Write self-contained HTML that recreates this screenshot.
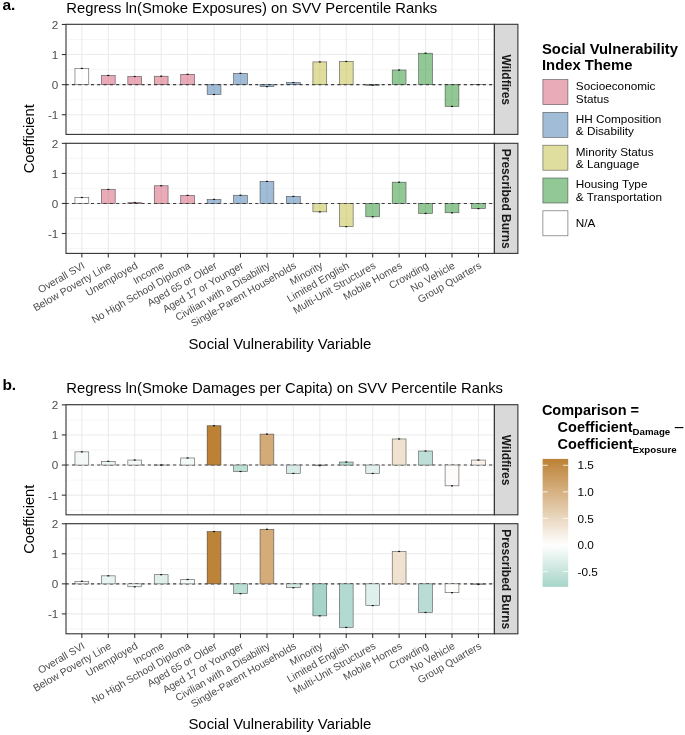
<!DOCTYPE html>
<html><head><meta charset="utf-8"><style>
html,body{margin:0;padding:0;background:#fff;}
body{width:685px;height:735px;overflow:hidden;font-family:"Liberation Sans", sans-serif;}
svg{display:block;will-change:transform;}
</style></head><body>
<svg width="685" height="735" viewBox="0 0 685 735" font-family='"Liberation Sans", sans-serif'><text x="2.4" y="10.05" font-size="15.5" font-weight="bold" fill="#000">a.</text>
<text x="66.3" y="12.90" font-size="14.8" fill="#000">Regress ln(Smoke Exposures) on SVV Percentile Ranks</text>
<rect x="66.0" y="24.3" width="428.40" height="110.10" fill="#fff"/>
<line x1="66.0" x2="494.4" y1="39.50" y2="39.50" stroke="#f0f0f0" stroke-width="0.6"/>
<line x1="66.0" x2="494.4" y1="69.60" y2="69.60" stroke="#f0f0f0" stroke-width="0.6"/>
<line x1="66.0" x2="494.4" y1="99.70" y2="99.70" stroke="#f0f0f0" stroke-width="0.6"/>
<line x1="66.0" x2="494.4" y1="129.80" y2="129.80" stroke="#f0f0f0" stroke-width="0.6"/>
<line x1="66.0" x2="494.4" y1="24.45" y2="24.45" stroke="#ebebeb" stroke-width="1.07"/>
<line x1="66.0" x2="494.4" y1="54.55" y2="54.55" stroke="#ebebeb" stroke-width="1.07"/>
<line x1="66.0" x2="494.4" y1="84.65" y2="84.65" stroke="#ebebeb" stroke-width="1.07"/>
<line x1="66.0" x2="494.4" y1="114.75" y2="114.75" stroke="#ebebeb" stroke-width="1.07"/>
<line x1="81.85" x2="81.85" y1="24.3" y2="134.4" stroke="#ebebeb" stroke-width="1.07"/>
<line x1="108.29" x2="108.29" y1="24.3" y2="134.4" stroke="#ebebeb" stroke-width="1.07"/>
<line x1="134.73" x2="134.73" y1="24.3" y2="134.4" stroke="#ebebeb" stroke-width="1.07"/>
<line x1="161.17" x2="161.17" y1="24.3" y2="134.4" stroke="#ebebeb" stroke-width="1.07"/>
<line x1="187.61" x2="187.61" y1="24.3" y2="134.4" stroke="#ebebeb" stroke-width="1.07"/>
<line x1="214.05" x2="214.05" y1="24.3" y2="134.4" stroke="#ebebeb" stroke-width="1.07"/>
<line x1="240.49" x2="240.49" y1="24.3" y2="134.4" stroke="#ebebeb" stroke-width="1.07"/>
<line x1="266.93" x2="266.93" y1="24.3" y2="134.4" stroke="#ebebeb" stroke-width="1.07"/>
<line x1="293.37" x2="293.37" y1="24.3" y2="134.4" stroke="#ebebeb" stroke-width="1.07"/>
<line x1="319.81" x2="319.81" y1="24.3" y2="134.4" stroke="#ebebeb" stroke-width="1.07"/>
<line x1="346.25" x2="346.25" y1="24.3" y2="134.4" stroke="#ebebeb" stroke-width="1.07"/>
<line x1="372.69" x2="372.69" y1="24.3" y2="134.4" stroke="#ebebeb" stroke-width="1.07"/>
<line x1="399.13" x2="399.13" y1="24.3" y2="134.4" stroke="#ebebeb" stroke-width="1.07"/>
<line x1="425.57" x2="425.57" y1="24.3" y2="134.4" stroke="#ebebeb" stroke-width="1.07"/>
<line x1="452.01" x2="452.01" y1="24.3" y2="134.4" stroke="#ebebeb" stroke-width="1.07"/>
<line x1="478.45" x2="478.45" y1="24.3" y2="134.4" stroke="#ebebeb" stroke-width="1.07"/>
<line x1="66.0" x2="494.4" y1="84.65" y2="84.65" stroke="#3d3d3d" stroke-width="1.07" stroke-dasharray="3.1 3.22" stroke-dashoffset="0.36"/>
<rect x="74.95" y="68.40" width="13.8" height="16.25" fill="#ffffff" fill-opacity="0.5" stroke="#333" stroke-opacity="0.75" stroke-width="0.65"/>
<rect x="101.39" y="75.47" width="13.8" height="9.18" fill="#d55773" fill-opacity="0.5" stroke="#333" stroke-opacity="0.75" stroke-width="0.65"/>
<rect x="127.83" y="76.52" width="13.8" height="8.13" fill="#d55773" fill-opacity="0.5" stroke="#333" stroke-opacity="0.75" stroke-width="0.65"/>
<rect x="154.27" y="76.22" width="13.8" height="8.43" fill="#d55773" fill-opacity="0.5" stroke="#333" stroke-opacity="0.75" stroke-width="0.65"/>
<rect x="180.71" y="74.33" width="13.8" height="10.32" fill="#d55773" fill-opacity="0.5" stroke="#333" stroke-opacity="0.75" stroke-width="0.65"/>
<rect x="207.15" y="84.65" width="13.8" height="9.84" fill="#4379ad" fill-opacity="0.5" stroke="#333" stroke-opacity="0.75" stroke-width="0.65"/>
<rect x="233.59" y="73.36" width="13.8" height="11.29" fill="#4379ad" fill-opacity="0.5" stroke="#333" stroke-opacity="0.75" stroke-width="0.65"/>
<rect x="260.03" y="84.65" width="13.8" height="1.96" fill="#4379ad" fill-opacity="0.5" stroke="#333" stroke-opacity="0.75" stroke-width="0.65"/>
<rect x="286.47" y="82.54" width="13.8" height="2.11" fill="#4379ad" fill-opacity="0.5" stroke="#333" stroke-opacity="0.75" stroke-width="0.65"/>
<rect x="312.91" y="61.92" width="13.8" height="22.73" fill="#bfbd3d" fill-opacity="0.5" stroke="#333" stroke-opacity="0.75" stroke-width="0.65"/>
<rect x="339.35" y="61.47" width="13.8" height="23.18" fill="#bfbd3d" fill-opacity="0.5" stroke="#333" stroke-opacity="0.75" stroke-width="0.65"/>
<rect x="365.79" y="84.65" width="13.8" height="0.60" fill="#23912d" fill-opacity="0.5" stroke="#333" stroke-opacity="0.75" stroke-width="0.65"/>
<rect x="392.23" y="69.99" width="13.8" height="14.66" fill="#23912d" fill-opacity="0.5" stroke="#333" stroke-opacity="0.75" stroke-width="0.65"/>
<rect x="418.67" y="53.23" width="13.8" height="31.42" fill="#23912d" fill-opacity="0.5" stroke="#333" stroke-opacity="0.75" stroke-width="0.65"/>
<rect x="445.11" y="84.65" width="13.8" height="21.76" fill="#23912d" fill-opacity="0.5" stroke="#333" stroke-opacity="0.75" stroke-width="0.65"/>
<rect x="471.55" y="84.65" width="13.8" height="0.01" fill="#23912d" fill-opacity="0.5" stroke="#333" stroke-opacity="0.75" stroke-width="0.65"/>
<rect x="80.85" y="67.80" width="2.0" height="1.2" fill="#111"/>
<rect x="107.29" y="74.87" width="2.0" height="1.2" fill="#111"/>
<rect x="133.73" y="75.92" width="2.0" height="1.2" fill="#111"/>
<rect x="160.17" y="75.62" width="2.0" height="1.2" fill="#111"/>
<rect x="186.61" y="73.73" width="2.0" height="1.2" fill="#111"/>
<rect x="213.05" y="93.89" width="2.0" height="1.2" fill="#111"/>
<rect x="239.49" y="72.76" width="2.0" height="1.2" fill="#111"/>
<rect x="265.93" y="86.01" width="2.0" height="1.2" fill="#111"/>
<rect x="292.37" y="81.94" width="2.0" height="1.2" fill="#111"/>
<rect x="318.81" y="61.32" width="2.0" height="1.2" fill="#111"/>
<rect x="345.25" y="60.87" width="2.0" height="1.2" fill="#111"/>
<rect x="371.69" y="84.65" width="2.0" height="1.2" fill="#111"/>
<rect x="398.13" y="69.39" width="2.0" height="1.2" fill="#111"/>
<rect x="424.57" y="52.63" width="2.0" height="1.2" fill="#111"/>
<rect x="451.01" y="105.81" width="2.0" height="1.2" fill="#111"/>
<rect x="477.45" y="84.05" width="2.0" height="1.2" fill="#111"/>
<rect x="66.0" y="24.3" width="428.40" height="110.10" fill="none" stroke="#333" stroke-width="1.1"/>
<rect x="494.4" y="24.3" width="23.50" height="110.10" fill="#d9d9d9" stroke="#333" stroke-width="1.1"/>
<text transform="translate(501.6,79.75) rotate(90)" text-anchor="middle" font-size="12" font-weight="bold" fill="#1a1a1a">Wildfires</text>
<line x1="61.8" x2="66.0" y1="24.45" y2="24.45" stroke="#333" stroke-width="1.07"/>
<text x="58.3" y="28.85" text-anchor="end" font-size="11.7" fill="#4d4d4d">2</text>
<line x1="61.8" x2="66.0" y1="54.55" y2="54.55" stroke="#333" stroke-width="1.07"/>
<text x="58.3" y="58.95" text-anchor="end" font-size="11.7" fill="#4d4d4d">1</text>
<line x1="61.8" x2="66.0" y1="84.65" y2="84.65" stroke="#333" stroke-width="1.07"/>
<text x="58.3" y="89.05" text-anchor="end" font-size="11.7" fill="#4d4d4d">0</text>
<line x1="61.8" x2="66.0" y1="114.75" y2="114.75" stroke="#333" stroke-width="1.07"/>
<text x="58.3" y="119.15" text-anchor="end" font-size="11.7" fill="#4d4d4d">-1</text>
<rect x="66.0" y="143.3" width="428.40" height="110.10" fill="#fff"/>
<line x1="66.0" x2="494.4" y1="158.38" y2="158.38" stroke="#f0f0f0" stroke-width="0.6"/>
<line x1="66.0" x2="494.4" y1="188.42" y2="188.42" stroke="#f0f0f0" stroke-width="0.6"/>
<line x1="66.0" x2="494.4" y1="218.47" y2="218.47" stroke="#f0f0f0" stroke-width="0.6"/>
<line x1="66.0" x2="494.4" y1="248.52" y2="248.52" stroke="#f0f0f0" stroke-width="0.6"/>
<line x1="66.0" x2="494.4" y1="143.35" y2="143.35" stroke="#ebebeb" stroke-width="1.07"/>
<line x1="66.0" x2="494.4" y1="173.40" y2="173.40" stroke="#ebebeb" stroke-width="1.07"/>
<line x1="66.0" x2="494.4" y1="203.45" y2="203.45" stroke="#ebebeb" stroke-width="1.07"/>
<line x1="66.0" x2="494.4" y1="233.50" y2="233.50" stroke="#ebebeb" stroke-width="1.07"/>
<line x1="81.85" x2="81.85" y1="143.3" y2="253.4" stroke="#ebebeb" stroke-width="1.07"/>
<line x1="108.29" x2="108.29" y1="143.3" y2="253.4" stroke="#ebebeb" stroke-width="1.07"/>
<line x1="134.73" x2="134.73" y1="143.3" y2="253.4" stroke="#ebebeb" stroke-width="1.07"/>
<line x1="161.17" x2="161.17" y1="143.3" y2="253.4" stroke="#ebebeb" stroke-width="1.07"/>
<line x1="187.61" x2="187.61" y1="143.3" y2="253.4" stroke="#ebebeb" stroke-width="1.07"/>
<line x1="214.05" x2="214.05" y1="143.3" y2="253.4" stroke="#ebebeb" stroke-width="1.07"/>
<line x1="240.49" x2="240.49" y1="143.3" y2="253.4" stroke="#ebebeb" stroke-width="1.07"/>
<line x1="266.93" x2="266.93" y1="143.3" y2="253.4" stroke="#ebebeb" stroke-width="1.07"/>
<line x1="293.37" x2="293.37" y1="143.3" y2="253.4" stroke="#ebebeb" stroke-width="1.07"/>
<line x1="319.81" x2="319.81" y1="143.3" y2="253.4" stroke="#ebebeb" stroke-width="1.07"/>
<line x1="346.25" x2="346.25" y1="143.3" y2="253.4" stroke="#ebebeb" stroke-width="1.07"/>
<line x1="372.69" x2="372.69" y1="143.3" y2="253.4" stroke="#ebebeb" stroke-width="1.07"/>
<line x1="399.13" x2="399.13" y1="143.3" y2="253.4" stroke="#ebebeb" stroke-width="1.07"/>
<line x1="425.57" x2="425.57" y1="143.3" y2="253.4" stroke="#ebebeb" stroke-width="1.07"/>
<line x1="452.01" x2="452.01" y1="143.3" y2="253.4" stroke="#ebebeb" stroke-width="1.07"/>
<line x1="478.45" x2="478.45" y1="143.3" y2="253.4" stroke="#ebebeb" stroke-width="1.07"/>
<line x1="66.0" x2="494.4" y1="203.45" y2="203.45" stroke="#3d3d3d" stroke-width="1.07" stroke-dasharray="3.1 3.22" stroke-dashoffset="0.36"/>
<rect x="74.95" y="197.50" width="13.8" height="5.95" fill="#ffffff" fill-opacity="0.5" stroke="#333" stroke-opacity="0.75" stroke-width="0.65"/>
<rect x="101.39" y="189.45" width="13.8" height="14.00" fill="#d55773" fill-opacity="0.5" stroke="#333" stroke-opacity="0.75" stroke-width="0.65"/>
<rect x="127.83" y="202.55" width="13.8" height="0.90" fill="#d55773" fill-opacity="0.5" stroke="#333" stroke-opacity="0.75" stroke-width="0.65"/>
<rect x="154.27" y="185.75" width="13.8" height="17.70" fill="#d55773" fill-opacity="0.5" stroke="#333" stroke-opacity="0.75" stroke-width="0.65"/>
<rect x="180.71" y="195.40" width="13.8" height="8.05" fill="#d55773" fill-opacity="0.5" stroke="#333" stroke-opacity="0.75" stroke-width="0.65"/>
<rect x="207.15" y="199.42" width="13.8" height="4.03" fill="#4379ad" fill-opacity="0.5" stroke="#333" stroke-opacity="0.75" stroke-width="0.65"/>
<rect x="233.59" y="195.25" width="13.8" height="8.20" fill="#4379ad" fill-opacity="0.5" stroke="#333" stroke-opacity="0.75" stroke-width="0.65"/>
<rect x="260.03" y="181.42" width="13.8" height="22.03" fill="#4379ad" fill-opacity="0.5" stroke="#333" stroke-opacity="0.75" stroke-width="0.65"/>
<rect x="286.47" y="196.39" width="13.8" height="7.06" fill="#4379ad" fill-opacity="0.5" stroke="#333" stroke-opacity="0.75" stroke-width="0.65"/>
<rect x="312.91" y="203.45" width="13.8" height="8.38" fill="#bfbd3d" fill-opacity="0.5" stroke="#333" stroke-opacity="0.75" stroke-width="0.65"/>
<rect x="339.35" y="203.45" width="13.8" height="23.17" fill="#bfbd3d" fill-opacity="0.5" stroke="#333" stroke-opacity="0.75" stroke-width="0.65"/>
<rect x="365.79" y="203.45" width="13.8" height="13.34" fill="#23912d" fill-opacity="0.5" stroke="#333" stroke-opacity="0.75" stroke-width="0.65"/>
<rect x="392.23" y="182.20" width="13.8" height="21.25" fill="#23912d" fill-opacity="0.5" stroke="#333" stroke-opacity="0.75" stroke-width="0.65"/>
<rect x="418.67" y="203.45" width="13.8" height="9.98" fill="#23912d" fill-opacity="0.5" stroke="#333" stroke-opacity="0.75" stroke-width="0.65"/>
<rect x="445.11" y="203.45" width="13.8" height="9.32" fill="#23912d" fill-opacity="0.5" stroke="#333" stroke-opacity="0.75" stroke-width="0.65"/>
<rect x="471.55" y="203.45" width="13.8" height="5.14" fill="#23912d" fill-opacity="0.5" stroke="#333" stroke-opacity="0.75" stroke-width="0.65"/>
<rect x="80.85" y="196.90" width="2.0" height="1.2" fill="#111"/>
<rect x="107.29" y="188.85" width="2.0" height="1.2" fill="#111"/>
<rect x="133.73" y="201.95" width="2.0" height="1.2" fill="#111"/>
<rect x="160.17" y="185.15" width="2.0" height="1.2" fill="#111"/>
<rect x="186.61" y="194.80" width="2.0" height="1.2" fill="#111"/>
<rect x="213.05" y="198.82" width="2.0" height="1.2" fill="#111"/>
<rect x="239.49" y="194.65" width="2.0" height="1.2" fill="#111"/>
<rect x="265.93" y="180.82" width="2.0" height="1.2" fill="#111"/>
<rect x="292.37" y="195.79" width="2.0" height="1.2" fill="#111"/>
<rect x="318.81" y="211.23" width="2.0" height="1.2" fill="#111"/>
<rect x="345.25" y="226.02" width="2.0" height="1.2" fill="#111"/>
<rect x="371.69" y="216.19" width="2.0" height="1.2" fill="#111"/>
<rect x="398.13" y="181.60" width="2.0" height="1.2" fill="#111"/>
<rect x="424.57" y="212.83" width="2.0" height="1.2" fill="#111"/>
<rect x="451.01" y="212.17" width="2.0" height="1.2" fill="#111"/>
<rect x="477.45" y="207.99" width="2.0" height="1.2" fill="#111"/>
<rect x="66.0" y="143.3" width="428.40" height="110.10" fill="none" stroke="#333" stroke-width="1.1"/>
<rect x="494.4" y="143.3" width="23.50" height="110.10" fill="#d9d9d9" stroke="#333" stroke-width="1.1"/>
<text transform="translate(501.6,198.75) rotate(90)" text-anchor="middle" font-size="12" font-weight="bold" fill="#1a1a1a">Prescribed Burns</text>
<line x1="61.8" x2="66.0" y1="143.35" y2="143.35" stroke="#333" stroke-width="1.07"/>
<text x="58.3" y="147.75" text-anchor="end" font-size="11.7" fill="#4d4d4d">2</text>
<line x1="61.8" x2="66.0" y1="173.40" y2="173.40" stroke="#333" stroke-width="1.07"/>
<text x="58.3" y="177.80" text-anchor="end" font-size="11.7" fill="#4d4d4d">1</text>
<line x1="61.8" x2="66.0" y1="203.45" y2="203.45" stroke="#333" stroke-width="1.07"/>
<text x="58.3" y="207.85" text-anchor="end" font-size="11.7" fill="#4d4d4d">0</text>
<line x1="61.8" x2="66.0" y1="233.50" y2="233.50" stroke="#333" stroke-width="1.07"/>
<text x="58.3" y="237.90" text-anchor="end" font-size="11.7" fill="#4d4d4d">-1</text>
<line x1="81.85" x2="81.85" y1="253.4" y2="257.60" stroke="#333" stroke-width="1.07"/>
<line x1="108.29" x2="108.29" y1="253.4" y2="257.60" stroke="#333" stroke-width="1.07"/>
<line x1="134.73" x2="134.73" y1="253.4" y2="257.60" stroke="#333" stroke-width="1.07"/>
<line x1="161.17" x2="161.17" y1="253.4" y2="257.60" stroke="#333" stroke-width="1.07"/>
<line x1="187.61" x2="187.61" y1="253.4" y2="257.60" stroke="#333" stroke-width="1.07"/>
<line x1="214.05" x2="214.05" y1="253.4" y2="257.60" stroke="#333" stroke-width="1.07"/>
<line x1="240.49" x2="240.49" y1="253.4" y2="257.60" stroke="#333" stroke-width="1.07"/>
<line x1="266.93" x2="266.93" y1="253.4" y2="257.60" stroke="#333" stroke-width="1.07"/>
<line x1="293.37" x2="293.37" y1="253.4" y2="257.60" stroke="#333" stroke-width="1.07"/>
<line x1="319.81" x2="319.81" y1="253.4" y2="257.60" stroke="#333" stroke-width="1.07"/>
<line x1="346.25" x2="346.25" y1="253.4" y2="257.60" stroke="#333" stroke-width="1.07"/>
<line x1="372.69" x2="372.69" y1="253.4" y2="257.60" stroke="#333" stroke-width="1.07"/>
<line x1="399.13" x2="399.13" y1="253.4" y2="257.60" stroke="#333" stroke-width="1.07"/>
<line x1="425.57" x2="425.57" y1="253.4" y2="257.60" stroke="#333" stroke-width="1.07"/>
<line x1="452.01" x2="452.01" y1="253.4" y2="257.60" stroke="#333" stroke-width="1.07"/>
<line x1="478.45" x2="478.45" y1="253.4" y2="257.60" stroke="#333" stroke-width="1.07"/>
<text transform="translate(81.85,261.10) rotate(-30)" text-anchor="end" dy="0.72em" font-size="10.3" fill="#4d4d4d">Overall SVI</text>
<text transform="translate(108.29,261.10) rotate(-30)" text-anchor="end" dy="0.72em" font-size="10.3" fill="#4d4d4d">Below Poverty Line</text>
<text transform="translate(134.73,261.10) rotate(-30)" text-anchor="end" dy="0.72em" font-size="10.3" fill="#4d4d4d">Unemployed</text>
<text transform="translate(161.17,261.10) rotate(-30)" text-anchor="end" dy="0.72em" font-size="10.3" fill="#4d4d4d">Income</text>
<text transform="translate(187.61,261.10) rotate(-30)" text-anchor="end" dy="0.72em" font-size="10.3" fill="#4d4d4d">No High School Diploma</text>
<text transform="translate(214.05,261.10) rotate(-30)" text-anchor="end" dy="0.72em" font-size="10.3" fill="#4d4d4d">Aged 65 or Older</text>
<text transform="translate(240.49,261.10) rotate(-30)" text-anchor="end" dy="0.72em" font-size="10.3" fill="#4d4d4d">Aged 17 or Younger</text>
<text transform="translate(266.93,261.10) rotate(-30)" text-anchor="end" dy="0.72em" font-size="10.3" fill="#4d4d4d">Civilian with a Disability</text>
<text transform="translate(293.37,261.10) rotate(-30)" text-anchor="end" dy="0.72em" font-size="10.3" fill="#4d4d4d">Single-Parent Households</text>
<text transform="translate(319.81,261.10) rotate(-30)" text-anchor="end" dy="0.72em" font-size="10.3" fill="#4d4d4d">Minority</text>
<text transform="translate(346.25,261.10) rotate(-30)" text-anchor="end" dy="0.72em" font-size="10.3" fill="#4d4d4d">Limited English</text>
<text transform="translate(372.69,261.10) rotate(-30)" text-anchor="end" dy="0.72em" font-size="10.3" fill="#4d4d4d">Multi-Unit Structures</text>
<text transform="translate(399.13,261.10) rotate(-30)" text-anchor="end" dy="0.72em" font-size="10.3" fill="#4d4d4d">Mobile Homes</text>
<text transform="translate(425.57,261.10) rotate(-30)" text-anchor="end" dy="0.72em" font-size="10.3" fill="#4d4d4d">Crowding</text>
<text transform="translate(452.01,261.10) rotate(-30)" text-anchor="end" dy="0.72em" font-size="10.3" fill="#4d4d4d">No Vehicle</text>
<text transform="translate(478.45,261.10) rotate(-30)" text-anchor="end" dy="0.72em" font-size="10.3" fill="#4d4d4d">Group Quarters</text>
<text transform="translate(33.9,138.80) rotate(-90)" text-anchor="middle" font-size="14.7" fill="#000">Coefficient</text>
<text x="279.9" y="348.80" text-anchor="middle" font-size="14.9" fill="#000">Social Vulnerability Variable</text>
<text x="2.4" y="390.45" font-size="15.5" font-weight="bold" fill="#000">b.</text>
<text x="66.3" y="393.30" font-size="14.8" fill="#000">Regress ln(Smoke Damages per Capita) on SVV Percentile Ranks</text>
<rect x="66.0" y="404.7" width="428.40" height="110.10" fill="#fff"/>
<line x1="66.0" x2="494.4" y1="419.90" y2="419.90" stroke="#f0f0f0" stroke-width="0.6"/>
<line x1="66.0" x2="494.4" y1="450.00" y2="450.00" stroke="#f0f0f0" stroke-width="0.6"/>
<line x1="66.0" x2="494.4" y1="480.10" y2="480.10" stroke="#f0f0f0" stroke-width="0.6"/>
<line x1="66.0" x2="494.4" y1="510.20" y2="510.20" stroke="#f0f0f0" stroke-width="0.6"/>
<line x1="66.0" x2="494.4" y1="404.85" y2="404.85" stroke="#ebebeb" stroke-width="1.07"/>
<line x1="66.0" x2="494.4" y1="434.95" y2="434.95" stroke="#ebebeb" stroke-width="1.07"/>
<line x1="66.0" x2="494.4" y1="465.05" y2="465.05" stroke="#ebebeb" stroke-width="1.07"/>
<line x1="66.0" x2="494.4" y1="495.15" y2="495.15" stroke="#ebebeb" stroke-width="1.07"/>
<line x1="81.85" x2="81.85" y1="404.7" y2="514.8" stroke="#ebebeb" stroke-width="1.07"/>
<line x1="108.29" x2="108.29" y1="404.7" y2="514.8" stroke="#ebebeb" stroke-width="1.07"/>
<line x1="134.73" x2="134.73" y1="404.7" y2="514.8" stroke="#ebebeb" stroke-width="1.07"/>
<line x1="161.17" x2="161.17" y1="404.7" y2="514.8" stroke="#ebebeb" stroke-width="1.07"/>
<line x1="187.61" x2="187.61" y1="404.7" y2="514.8" stroke="#ebebeb" stroke-width="1.07"/>
<line x1="214.05" x2="214.05" y1="404.7" y2="514.8" stroke="#ebebeb" stroke-width="1.07"/>
<line x1="240.49" x2="240.49" y1="404.7" y2="514.8" stroke="#ebebeb" stroke-width="1.07"/>
<line x1="266.93" x2="266.93" y1="404.7" y2="514.8" stroke="#ebebeb" stroke-width="1.07"/>
<line x1="293.37" x2="293.37" y1="404.7" y2="514.8" stroke="#ebebeb" stroke-width="1.07"/>
<line x1="319.81" x2="319.81" y1="404.7" y2="514.8" stroke="#ebebeb" stroke-width="1.07"/>
<line x1="346.25" x2="346.25" y1="404.7" y2="514.8" stroke="#ebebeb" stroke-width="1.07"/>
<line x1="372.69" x2="372.69" y1="404.7" y2="514.8" stroke="#ebebeb" stroke-width="1.07"/>
<line x1="399.13" x2="399.13" y1="404.7" y2="514.8" stroke="#ebebeb" stroke-width="1.07"/>
<line x1="425.57" x2="425.57" y1="404.7" y2="514.8" stroke="#ebebeb" stroke-width="1.07"/>
<line x1="452.01" x2="452.01" y1="404.7" y2="514.8" stroke="#ebebeb" stroke-width="1.07"/>
<line x1="478.45" x2="478.45" y1="404.7" y2="514.8" stroke="#ebebeb" stroke-width="1.07"/>
<line x1="66.0" x2="494.4" y1="465.05" y2="465.05" stroke="#3d3d3d" stroke-width="1.07" stroke-dasharray="3.1 3.22" stroke-dashoffset="0.36"/>
<rect x="74.95" y="451.84" width="13.8" height="13.21" fill="#f4f9f8" fill-opacity="1.0" stroke="#333" stroke-opacity="0.75" stroke-width="0.65"/>
<rect x="101.39" y="461.35" width="13.8" height="3.70" fill="#eaf5f2" fill-opacity="1.0" stroke="#333" stroke-opacity="0.75" stroke-width="0.65"/>
<rect x="127.83" y="460.05" width="13.8" height="5.00" fill="#f3f9f8" fill-opacity="1.0" stroke="#333" stroke-opacity="0.75" stroke-width="0.65"/>
<rect x="154.27" y="465.05" width="13.8" height="0.01" fill="#dff0eb" fill-opacity="1.0" stroke="#333" stroke-opacity="0.75" stroke-width="0.65"/>
<rect x="180.71" y="457.98" width="13.8" height="7.07" fill="#f3f9f7" fill-opacity="1.0" stroke="#333" stroke-opacity="0.75" stroke-width="0.65"/>
<rect x="207.15" y="425.74" width="13.8" height="39.31" fill="#bc8135" fill-opacity="1.0" stroke="#333" stroke-opacity="0.75" stroke-width="0.65"/>
<rect x="233.59" y="465.05" width="13.8" height="6.44" fill="#bcdfd6" fill-opacity="1.0" stroke="#333" stroke-opacity="0.75" stroke-width="0.65"/>
<rect x="260.03" y="434.11" width="13.8" height="30.94" fill="#d2ab78" fill-opacity="1.0" stroke="#333" stroke-opacity="0.75" stroke-width="0.65"/>
<rect x="286.47" y="465.05" width="13.8" height="8.40" fill="#d7ece7" fill-opacity="1.0" stroke="#333" stroke-opacity="0.75" stroke-width="0.65"/>
<rect x="312.91" y="465.05" width="13.8" height="0.60" fill="#a7d5c9" fill-opacity="1.0" stroke="#333" stroke-opacity="0.75" stroke-width="0.65"/>
<rect x="339.35" y="462.04" width="13.8" height="3.01" fill="#b3dad0" fill-opacity="1.0" stroke="#333" stroke-opacity="0.75" stroke-width="0.65"/>
<rect x="365.79" y="465.05" width="13.8" height="8.40" fill="#e2f1ed" fill-opacity="1.0" stroke="#333" stroke-opacity="0.75" stroke-width="0.65"/>
<rect x="392.23" y="438.95" width="13.8" height="26.10" fill="#efe2d0" fill-opacity="1.0" stroke="#333" stroke-opacity="0.75" stroke-width="0.65"/>
<rect x="418.67" y="451.02" width="13.8" height="14.03" fill="#bedfd7" fill-opacity="1.0" stroke="#333" stroke-opacity="0.75" stroke-width="0.65"/>
<rect x="445.11" y="465.05" width="13.8" height="20.77" fill="#fefcfb" fill-opacity="1.0" stroke="#333" stroke-opacity="0.75" stroke-width="0.65"/>
<rect x="471.55" y="460.05" width="13.8" height="5.00" fill="#f8f2ea" fill-opacity="1.0" stroke="#333" stroke-opacity="0.75" stroke-width="0.65"/>
<rect x="80.85" y="451.24" width="2.0" height="1.2" fill="#111"/>
<rect x="107.29" y="460.75" width="2.0" height="1.2" fill="#111"/>
<rect x="133.73" y="459.45" width="2.0" height="1.2" fill="#111"/>
<rect x="160.17" y="464.45" width="2.0" height="1.2" fill="#111"/>
<rect x="186.61" y="457.38" width="2.0" height="1.2" fill="#111"/>
<rect x="213.05" y="425.14" width="2.0" height="1.2" fill="#111"/>
<rect x="239.49" y="470.89" width="2.0" height="1.2" fill="#111"/>
<rect x="265.93" y="433.51" width="2.0" height="1.2" fill="#111"/>
<rect x="292.37" y="472.85" width="2.0" height="1.2" fill="#111"/>
<rect x="318.81" y="465.05" width="2.0" height="1.2" fill="#111"/>
<rect x="345.25" y="461.44" width="2.0" height="1.2" fill="#111"/>
<rect x="371.69" y="472.85" width="2.0" height="1.2" fill="#111"/>
<rect x="398.13" y="438.35" width="2.0" height="1.2" fill="#111"/>
<rect x="424.57" y="450.42" width="2.0" height="1.2" fill="#111"/>
<rect x="451.01" y="485.22" width="2.0" height="1.2" fill="#111"/>
<rect x="477.45" y="459.45" width="2.0" height="1.2" fill="#111"/>
<rect x="66.0" y="404.7" width="428.40" height="110.10" fill="none" stroke="#333" stroke-width="1.1"/>
<rect x="494.4" y="404.7" width="23.50" height="110.10" fill="#d9d9d9" stroke="#333" stroke-width="1.1"/>
<text transform="translate(501.6,460.15) rotate(90)" text-anchor="middle" font-size="12" font-weight="bold" fill="#1a1a1a">Wildfires</text>
<line x1="61.8" x2="66.0" y1="404.85" y2="404.85" stroke="#333" stroke-width="1.07"/>
<text x="58.3" y="409.25" text-anchor="end" font-size="11.7" fill="#4d4d4d">2</text>
<line x1="61.8" x2="66.0" y1="434.95" y2="434.95" stroke="#333" stroke-width="1.07"/>
<text x="58.3" y="439.35" text-anchor="end" font-size="11.7" fill="#4d4d4d">1</text>
<line x1="61.8" x2="66.0" y1="465.05" y2="465.05" stroke="#333" stroke-width="1.07"/>
<text x="58.3" y="469.45" text-anchor="end" font-size="11.7" fill="#4d4d4d">0</text>
<line x1="61.8" x2="66.0" y1="495.15" y2="495.15" stroke="#333" stroke-width="1.07"/>
<text x="58.3" y="499.55" text-anchor="end" font-size="11.7" fill="#4d4d4d">-1</text>
<rect x="66.0" y="523.7" width="428.40" height="110.10" fill="#fff"/>
<line x1="66.0" x2="494.4" y1="538.77" y2="538.77" stroke="#f0f0f0" stroke-width="0.6"/>
<line x1="66.0" x2="494.4" y1="568.82" y2="568.82" stroke="#f0f0f0" stroke-width="0.6"/>
<line x1="66.0" x2="494.4" y1="598.87" y2="598.87" stroke="#f0f0f0" stroke-width="0.6"/>
<line x1="66.0" x2="494.4" y1="628.92" y2="628.92" stroke="#f0f0f0" stroke-width="0.6"/>
<line x1="66.0" x2="494.4" y1="523.75" y2="523.75" stroke="#ebebeb" stroke-width="1.07"/>
<line x1="66.0" x2="494.4" y1="553.80" y2="553.80" stroke="#ebebeb" stroke-width="1.07"/>
<line x1="66.0" x2="494.4" y1="583.85" y2="583.85" stroke="#ebebeb" stroke-width="1.07"/>
<line x1="66.0" x2="494.4" y1="613.90" y2="613.90" stroke="#ebebeb" stroke-width="1.07"/>
<line x1="81.85" x2="81.85" y1="523.7" y2="633.8" stroke="#ebebeb" stroke-width="1.07"/>
<line x1="108.29" x2="108.29" y1="523.7" y2="633.8" stroke="#ebebeb" stroke-width="1.07"/>
<line x1="134.73" x2="134.73" y1="523.7" y2="633.8" stroke="#ebebeb" stroke-width="1.07"/>
<line x1="161.17" x2="161.17" y1="523.7" y2="633.8" stroke="#ebebeb" stroke-width="1.07"/>
<line x1="187.61" x2="187.61" y1="523.7" y2="633.8" stroke="#ebebeb" stroke-width="1.07"/>
<line x1="214.05" x2="214.05" y1="523.7" y2="633.8" stroke="#ebebeb" stroke-width="1.07"/>
<line x1="240.49" x2="240.49" y1="523.7" y2="633.8" stroke="#ebebeb" stroke-width="1.07"/>
<line x1="266.93" x2="266.93" y1="523.7" y2="633.8" stroke="#ebebeb" stroke-width="1.07"/>
<line x1="293.37" x2="293.37" y1="523.7" y2="633.8" stroke="#ebebeb" stroke-width="1.07"/>
<line x1="319.81" x2="319.81" y1="523.7" y2="633.8" stroke="#ebebeb" stroke-width="1.07"/>
<line x1="346.25" x2="346.25" y1="523.7" y2="633.8" stroke="#ebebeb" stroke-width="1.07"/>
<line x1="372.69" x2="372.69" y1="523.7" y2="633.8" stroke="#ebebeb" stroke-width="1.07"/>
<line x1="399.13" x2="399.13" y1="523.7" y2="633.8" stroke="#ebebeb" stroke-width="1.07"/>
<line x1="425.57" x2="425.57" y1="523.7" y2="633.8" stroke="#ebebeb" stroke-width="1.07"/>
<line x1="452.01" x2="452.01" y1="523.7" y2="633.8" stroke="#ebebeb" stroke-width="1.07"/>
<line x1="478.45" x2="478.45" y1="523.7" y2="633.8" stroke="#ebebeb" stroke-width="1.07"/>
<line x1="66.0" x2="494.4" y1="583.85" y2="583.85" stroke="#3d3d3d" stroke-width="1.07" stroke-dasharray="3.1 3.22" stroke-dashoffset="0.36"/>
<rect x="74.95" y="581.30" width="13.8" height="2.55" fill="#f2f9f7" fill-opacity="1.0" stroke="#333" stroke-opacity="0.75" stroke-width="0.65"/>
<rect x="101.39" y="575.83" width="13.8" height="8.02" fill="#e8f4f1" fill-opacity="1.0" stroke="#333" stroke-opacity="0.75" stroke-width="0.65"/>
<rect x="127.83" y="583.85" width="13.8" height="2.91" fill="#f1f8f6" fill-opacity="1.0" stroke="#333" stroke-opacity="0.75" stroke-width="0.65"/>
<rect x="154.27" y="574.68" width="13.8" height="9.17" fill="#dff0eb" fill-opacity="1.0" stroke="#333" stroke-opacity="0.75" stroke-width="0.65"/>
<rect x="180.71" y="579.49" width="13.8" height="4.36" fill="#f1f8f6" fill-opacity="1.0" stroke="#333" stroke-opacity="0.75" stroke-width="0.65"/>
<rect x="207.15" y="531.56" width="13.8" height="52.29" fill="#bd8338" fill-opacity="1.0" stroke="#333" stroke-opacity="0.75" stroke-width="0.65"/>
<rect x="233.59" y="583.85" width="13.8" height="9.80" fill="#bbded5" fill-opacity="1.0" stroke="#333" stroke-opacity="0.75" stroke-width="0.65"/>
<rect x="260.03" y="529.31" width="13.8" height="54.54" fill="#d3ac79" fill-opacity="1.0" stroke="#333" stroke-opacity="0.75" stroke-width="0.65"/>
<rect x="286.47" y="583.85" width="13.8" height="3.85" fill="#d6ebe6" fill-opacity="1.0" stroke="#333" stroke-opacity="0.75" stroke-width="0.65"/>
<rect x="312.91" y="583.85" width="13.8" height="32.00" fill="#a6d4c8" fill-opacity="1.0" stroke="#333" stroke-opacity="0.75" stroke-width="0.65"/>
<rect x="339.35" y="583.85" width="13.8" height="43.57" fill="#b2dad0" fill-opacity="1.0" stroke="#333" stroke-opacity="0.75" stroke-width="0.65"/>
<rect x="365.79" y="583.85" width="13.8" height="21.73" fill="#dff0ec" fill-opacity="1.0" stroke="#333" stroke-opacity="0.75" stroke-width="0.65"/>
<rect x="392.23" y="551.49" width="13.8" height="32.36" fill="#f0e2d1" fill-opacity="1.0" stroke="#333" stroke-opacity="0.75" stroke-width="0.65"/>
<rect x="418.67" y="583.85" width="13.8" height="28.61" fill="#b9ddd4" fill-opacity="1.0" stroke="#333" stroke-opacity="0.75" stroke-width="0.65"/>
<rect x="445.11" y="583.85" width="13.8" height="8.83" fill="#fefefd" fill-opacity="1.0" stroke="#333" stroke-opacity="0.75" stroke-width="0.65"/>
<rect x="471.55" y="583.85" width="13.8" height="0.60" fill="#f9f3ec" fill-opacity="1.0" stroke="#333" stroke-opacity="0.75" stroke-width="0.65"/>
<rect x="80.85" y="580.70" width="2.0" height="1.2" fill="#111"/>
<rect x="107.29" y="575.23" width="2.0" height="1.2" fill="#111"/>
<rect x="133.73" y="586.16" width="2.0" height="1.2" fill="#111"/>
<rect x="160.17" y="574.08" width="2.0" height="1.2" fill="#111"/>
<rect x="186.61" y="578.89" width="2.0" height="1.2" fill="#111"/>
<rect x="213.05" y="530.96" width="2.0" height="1.2" fill="#111"/>
<rect x="239.49" y="593.05" width="2.0" height="1.2" fill="#111"/>
<rect x="265.93" y="528.71" width="2.0" height="1.2" fill="#111"/>
<rect x="292.37" y="587.10" width="2.0" height="1.2" fill="#111"/>
<rect x="318.81" y="615.25" width="2.0" height="1.2" fill="#111"/>
<rect x="345.25" y="626.82" width="2.0" height="1.2" fill="#111"/>
<rect x="371.69" y="604.98" width="2.0" height="1.2" fill="#111"/>
<rect x="398.13" y="550.89" width="2.0" height="1.2" fill="#111"/>
<rect x="424.57" y="611.86" width="2.0" height="1.2" fill="#111"/>
<rect x="451.01" y="592.08" width="2.0" height="1.2" fill="#111"/>
<rect x="477.45" y="583.85" width="2.0" height="1.2" fill="#111"/>
<rect x="66.0" y="523.7" width="428.40" height="110.10" fill="none" stroke="#333" stroke-width="1.1"/>
<rect x="494.4" y="523.7" width="23.50" height="110.10" fill="#d9d9d9" stroke="#333" stroke-width="1.1"/>
<text transform="translate(501.6,579.15) rotate(90)" text-anchor="middle" font-size="12" font-weight="bold" fill="#1a1a1a">Prescribed Burns</text>
<line x1="61.8" x2="66.0" y1="523.75" y2="523.75" stroke="#333" stroke-width="1.07"/>
<text x="58.3" y="528.15" text-anchor="end" font-size="11.7" fill="#4d4d4d">2</text>
<line x1="61.8" x2="66.0" y1="553.80" y2="553.80" stroke="#333" stroke-width="1.07"/>
<text x="58.3" y="558.20" text-anchor="end" font-size="11.7" fill="#4d4d4d">1</text>
<line x1="61.8" x2="66.0" y1="583.85" y2="583.85" stroke="#333" stroke-width="1.07"/>
<text x="58.3" y="588.25" text-anchor="end" font-size="11.7" fill="#4d4d4d">0</text>
<line x1="61.8" x2="66.0" y1="613.90" y2="613.90" stroke="#333" stroke-width="1.07"/>
<text x="58.3" y="618.30" text-anchor="end" font-size="11.7" fill="#4d4d4d">-1</text>
<line x1="81.85" x2="81.85" y1="633.8" y2="638.00" stroke="#333" stroke-width="1.07"/>
<line x1="108.29" x2="108.29" y1="633.8" y2="638.00" stroke="#333" stroke-width="1.07"/>
<line x1="134.73" x2="134.73" y1="633.8" y2="638.00" stroke="#333" stroke-width="1.07"/>
<line x1="161.17" x2="161.17" y1="633.8" y2="638.00" stroke="#333" stroke-width="1.07"/>
<line x1="187.61" x2="187.61" y1="633.8" y2="638.00" stroke="#333" stroke-width="1.07"/>
<line x1="214.05" x2="214.05" y1="633.8" y2="638.00" stroke="#333" stroke-width="1.07"/>
<line x1="240.49" x2="240.49" y1="633.8" y2="638.00" stroke="#333" stroke-width="1.07"/>
<line x1="266.93" x2="266.93" y1="633.8" y2="638.00" stroke="#333" stroke-width="1.07"/>
<line x1="293.37" x2="293.37" y1="633.8" y2="638.00" stroke="#333" stroke-width="1.07"/>
<line x1="319.81" x2="319.81" y1="633.8" y2="638.00" stroke="#333" stroke-width="1.07"/>
<line x1="346.25" x2="346.25" y1="633.8" y2="638.00" stroke="#333" stroke-width="1.07"/>
<line x1="372.69" x2="372.69" y1="633.8" y2="638.00" stroke="#333" stroke-width="1.07"/>
<line x1="399.13" x2="399.13" y1="633.8" y2="638.00" stroke="#333" stroke-width="1.07"/>
<line x1="425.57" x2="425.57" y1="633.8" y2="638.00" stroke="#333" stroke-width="1.07"/>
<line x1="452.01" x2="452.01" y1="633.8" y2="638.00" stroke="#333" stroke-width="1.07"/>
<line x1="478.45" x2="478.45" y1="633.8" y2="638.00" stroke="#333" stroke-width="1.07"/>
<text transform="translate(81.85,641.50) rotate(-30)" text-anchor="end" dy="0.72em" font-size="10.3" fill="#4d4d4d">Overall SVI</text>
<text transform="translate(108.29,641.50) rotate(-30)" text-anchor="end" dy="0.72em" font-size="10.3" fill="#4d4d4d">Below Poverty Line</text>
<text transform="translate(134.73,641.50) rotate(-30)" text-anchor="end" dy="0.72em" font-size="10.3" fill="#4d4d4d">Unemployed</text>
<text transform="translate(161.17,641.50) rotate(-30)" text-anchor="end" dy="0.72em" font-size="10.3" fill="#4d4d4d">Income</text>
<text transform="translate(187.61,641.50) rotate(-30)" text-anchor="end" dy="0.72em" font-size="10.3" fill="#4d4d4d">No High School Diploma</text>
<text transform="translate(214.05,641.50) rotate(-30)" text-anchor="end" dy="0.72em" font-size="10.3" fill="#4d4d4d">Aged 65 or Older</text>
<text transform="translate(240.49,641.50) rotate(-30)" text-anchor="end" dy="0.72em" font-size="10.3" fill="#4d4d4d">Aged 17 or Younger</text>
<text transform="translate(266.93,641.50) rotate(-30)" text-anchor="end" dy="0.72em" font-size="10.3" fill="#4d4d4d">Civilian with a Disability</text>
<text transform="translate(293.37,641.50) rotate(-30)" text-anchor="end" dy="0.72em" font-size="10.3" fill="#4d4d4d">Single-Parent Households</text>
<text transform="translate(319.81,641.50) rotate(-30)" text-anchor="end" dy="0.72em" font-size="10.3" fill="#4d4d4d">Minority</text>
<text transform="translate(346.25,641.50) rotate(-30)" text-anchor="end" dy="0.72em" font-size="10.3" fill="#4d4d4d">Limited English</text>
<text transform="translate(372.69,641.50) rotate(-30)" text-anchor="end" dy="0.72em" font-size="10.3" fill="#4d4d4d">Multi-Unit Structures</text>
<text transform="translate(399.13,641.50) rotate(-30)" text-anchor="end" dy="0.72em" font-size="10.3" fill="#4d4d4d">Mobile Homes</text>
<text transform="translate(425.57,641.50) rotate(-30)" text-anchor="end" dy="0.72em" font-size="10.3" fill="#4d4d4d">Crowding</text>
<text transform="translate(452.01,641.50) rotate(-30)" text-anchor="end" dy="0.72em" font-size="10.3" fill="#4d4d4d">No Vehicle</text>
<text transform="translate(478.45,641.50) rotate(-30)" text-anchor="end" dy="0.72em" font-size="10.3" fill="#4d4d4d">Group Quarters</text>
<text transform="translate(33.9,519.20) rotate(-90)" text-anchor="middle" font-size="14.7" fill="#000">Coefficient</text>
<text x="279.9" y="729.20" text-anchor="middle" font-size="14.9" fill="#000">Social Vulnerability Variable</text>
<text x="542" y="53.7" font-size="14.8" font-weight="bold" fill="#000">Social Vulnerability</text>
<text x="542" y="69.7" font-size="14.8" font-weight="bold" fill="#000">Index Theme</text>
<rect x="542.9" y="79.60" width="25" height="25" fill="#d55773" fill-opacity="0.5" stroke="#333" stroke-opacity="0.75" stroke-width="0.65"/>
<text x="575.8" y="89.90" font-size="11.75" fill="#000">Socioeconomic</text>
<text x="575.8" y="102.50" font-size="11.75" fill="#000">Status</text>
<rect x="542.9" y="112.40" width="25" height="25" fill="#4379ad" fill-opacity="0.5" stroke="#333" stroke-opacity="0.75" stroke-width="0.65"/>
<text x="575.8" y="122.70" font-size="11.75" fill="#000">HH Composition</text>
<text x="575.8" y="135.30" font-size="11.75" fill="#000">&amp; Disability</text>
<rect x="542.9" y="145.20" width="25" height="25" fill="#bfbd3d" fill-opacity="0.5" stroke="#333" stroke-opacity="0.75" stroke-width="0.65"/>
<text x="575.8" y="155.50" font-size="11.75" fill="#000">Minority Status</text>
<text x="575.8" y="168.10" font-size="11.75" fill="#000">&amp; Language</text>
<rect x="542.9" y="178.00" width="25" height="25" fill="#23912d" fill-opacity="0.5" stroke="#333" stroke-opacity="0.75" stroke-width="0.65"/>
<text x="575.8" y="188.30" font-size="11.75" fill="#000">Housing Type</text>
<text x="575.8" y="200.90" font-size="11.75" fill="#000">&amp; Transportation</text>
<rect x="542.9" y="210.80" width="25" height="25" fill="#ffffff" fill-opacity="0.5" stroke="#333" stroke-opacity="0.75" stroke-width="0.65"/>
<text x="575.8" y="227.40" font-size="11.75" fill="#000">N/A</text>
<text x="541.9" y="414.5" font-size="14.5" font-weight="bold" fill="#000">Comparison =</text>
<text x="557.6" y="432.1" font-size="14.5" font-weight="bold" fill="#000">Coefficient<tspan font-size="9.7" dy="3.3">Damage</tspan></text>
<line x1="674.8" x2="683.4" y1="427.6" y2="427.6" stroke="#000" stroke-width="1.15"/>
<text x="557.6" y="449.4" font-size="14.5" font-weight="bold" fill="#000">Coefficient<tspan font-size="9.7" dy="3.3">Exposure</tspan></text>
<defs><linearGradient id="cb" x1="0" y1="0" x2="0" y2="1"><stop offset="0.0000" stop-color="#bc8135"/><stop offset="0.0417" stop-color="#c08941"/><stop offset="0.0833" stop-color="#c4914e"/><stop offset="0.1250" stop-color="#c8985a"/><stop offset="0.1667" stop-color="#cda067"/><stop offset="0.2083" stop-color="#d1a873"/><stop offset="0.2500" stop-color="#d5b080"/><stop offset="0.2917" stop-color="#d9b78c"/><stop offset="0.3333" stop-color="#ddbf99"/><stop offset="0.3750" stop-color="#e1c7a5"/><stop offset="0.4167" stop-color="#e5cfb2"/><stop offset="0.4583" stop-color="#e9d7be"/><stop offset="0.5000" stop-color="#eedecb"/><stop offset="0.5417" stop-color="#f2e6d7"/><stop offset="0.5833" stop-color="#f6eee4"/><stop offset="0.6250" stop-color="#faf6f0"/><stop offset="0.6667" stop-color="#fefdfc"/><stop offset="0.7083" stop-color="#f6fbf9"/><stop offset="0.7500" stop-color="#eaf5f2"/><stop offset="0.7917" stop-color="#dff0eb"/><stop offset="0.8333" stop-color="#d4eae4"/><stop offset="0.8750" stop-color="#c8e5dd"/><stop offset="0.9167" stop-color="#bddfd6"/><stop offset="0.9583" stop-color="#b1dacf"/><stop offset="1.0000" stop-color="#a6d4c8"/></linearGradient></defs>
<rect x="542.6" y="458.9" width="25.60" height="127.90" fill="url(#cb)"/>
<line x1="542.6" x2="547.70" y1="465.30" y2="465.30" stroke="#fff" stroke-opacity="0.75" stroke-width="1.07"/>
<line x1="563.10" x2="568.2" y1="465.30" y2="465.30" stroke="#fff" stroke-opacity="0.75" stroke-width="1.07"/>
<text x="577.5" y="469.40" font-size="11.75" fill="#000">1.5</text>
<line x1="542.6" x2="547.70" y1="491.85" y2="491.85" stroke="#fff" stroke-opacity="0.75" stroke-width="1.07"/>
<line x1="563.10" x2="568.2" y1="491.85" y2="491.85" stroke="#fff" stroke-opacity="0.75" stroke-width="1.07"/>
<text x="577.5" y="495.95" font-size="11.75" fill="#000">1.0</text>
<line x1="542.6" x2="547.70" y1="518.40" y2="518.40" stroke="#fff" stroke-opacity="0.75" stroke-width="1.07"/>
<line x1="563.10" x2="568.2" y1="518.40" y2="518.40" stroke="#fff" stroke-opacity="0.75" stroke-width="1.07"/>
<text x="577.5" y="522.50" font-size="11.75" fill="#000">0.5</text>
<line x1="542.6" x2="547.70" y1="544.95" y2="544.95" stroke="#fff" stroke-opacity="0.75" stroke-width="1.07"/>
<line x1="563.10" x2="568.2" y1="544.95" y2="544.95" stroke="#fff" stroke-opacity="0.75" stroke-width="1.07"/>
<text x="577.5" y="549.05" font-size="11.75" fill="#000">0.0</text>
<line x1="542.6" x2="547.70" y1="571.50" y2="571.50" stroke="#fff" stroke-opacity="0.75" stroke-width="1.07"/>
<line x1="563.10" x2="568.2" y1="571.50" y2="571.50" stroke="#fff" stroke-opacity="0.75" stroke-width="1.07"/>
<text x="577.5" y="575.60" font-size="11.75" fill="#000">-0.5</text></svg>
</body></html>
